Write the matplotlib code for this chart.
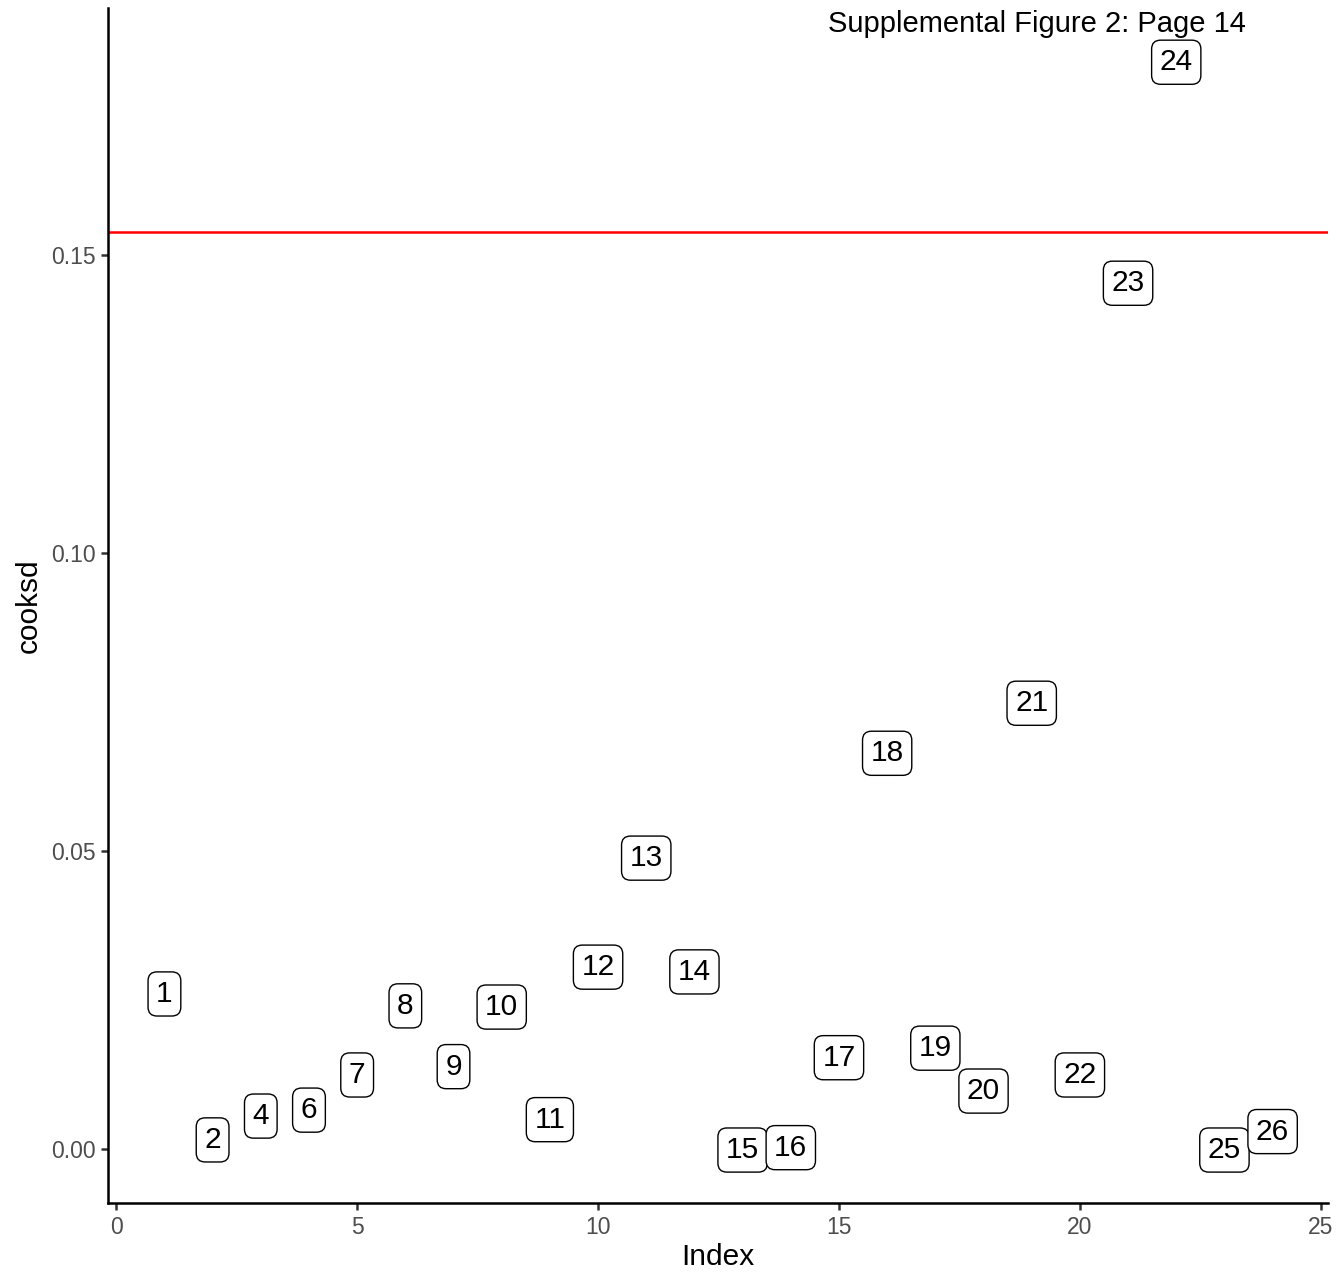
import matplotlib
matplotlib.use('Agg')
import matplotlib.pyplot as plt
import matplotlib.transforms as mtransforms

# Cook's distance per observation (labels are the original row ids)
index = list(range(1, 25))
row_ids = ['1', '2', '4', '6', '7', '8', '9', '10', '11', '12', '13', '14',
           '15', '16', '17', '18', '19', '20', '21', '22', '23', '24', '25', '26']
cooksd = [0.0260, 0.0015, 0.0055, 0.0065, 0.0124, 0.0240, 0.0138, 0.0238,
          0.0049, 0.0305, 0.0488, 0.0297, -0.0002, 0.0002, 0.0153, 0.0664,
          0.0169, 0.0097, 0.0748, 0.0124, 0.1453, 0.1824, -0.0002, 0.0029]
cutoff = 4 / 26

xticks = [0, 5, 10, 15, 20, 25]
yticks = [0.00, 0.05, 0.10, 0.15]

plt.rcParams['font.family'] = ['Liberation Sans', 'DejaVu Sans']

fig = plt.figure(figsize=(13.39, 12.72), dpi=100)
ax = fig.add_axes([0.0807, 0.0542, 0.9111, 0.9395])

for x, y, lab in zip(index, cooksd, row_ids):
    ax.text(x, y, lab, ha='center', va='center', fontsize=21.5, color='black',
            bbox=dict(boxstyle='round,pad=0.27,rounding_size=0.3',
                      facecolor='white', edgecolor='black', linewidth=1.0))

ax.axhline(cutoff, color='#FF0000', linewidth=1.8)

ax.set_xlim(-0.17, 25.15)
ax.set_ylim(-0.0091, 0.1915)
ax.set_xticks(xticks)
ax.set_xticklabels([str(t) for t in xticks])
ax.set_yticks(yticks)
ax.set_yticklabels(['%.2f' % t for t in yticks])

for side in ['top', 'right']:
    ax.spines[side].set_visible(False)
for side in ['left', 'bottom']:
    ax.spines[side].set_linewidth(1.8)
    ax.spines[side].set_color('black')
ax.tick_params(axis='both', length=5, width=1.8, color='#333333',
               labelsize=16.5, labelcolor='#4D4D4D', pad=4)

ax.set_xlabel('Index', fontsize=21.5, labelpad=3)
ax.set_ylabel('cooksd', fontsize=21.5, labelpad=6)

trans = mtransforms.blended_transform_factory(ax.transData, fig.transFigure)
ax.text(19.1, 0.992, 'Supplemental Figure 2: Page 14', transform=trans,
        ha='center', va='top', fontsize=21, color='black')

fig.savefig('out.png', dpi=100)
